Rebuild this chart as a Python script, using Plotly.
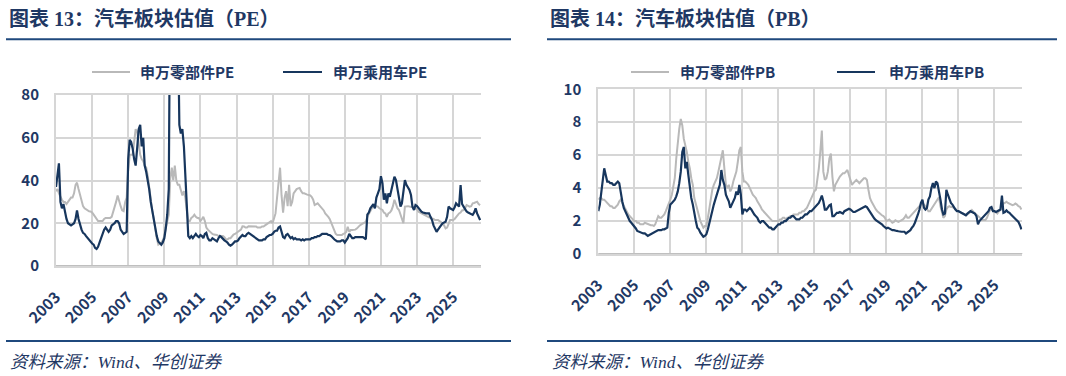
import plotly.graph_objects as go
import pandas as pd

W, H = 1066, 376

# ---------------- data (monthly, 2003-01 .. 2026-07) ----------------
MONTHS = pd.date_range("2003-01-01", "2026-07-01", freq="MS")

PANEL_TITLES = ["图表 13：汽车板块估值（PE）", "图表 14：汽车板块估值（PB）"]
SERIES_NAMES_PE = ["申万零部件PE", "申万乘用车PE"]
SERIES_NAMES_PB = ["申万零部件PB", "申万乘用车PB"]
SOURCE_TEXT = "资料来源：Wind、华创证券"

PE_PARTS = [
    35, 36, 34, 32, 31, 30, 30, 29, 30, 31, 32, 32,            # 2003
    34, 38, 39, 36, 33, 30, 28, 27, 26.5, 26, 25.6, 25.5,      # 2004
    25, 24, 23, 22, 21, 21, 21, 21, 22, 22.5, 22.5, 22.5,      # 2005
    22.5, 23, 25, 27, 30, 33, 30, 28, 26, 25.6, 30, 32,        # 2006
    45, 52, 52, 52, 58, 64, 63, 58, 52, 50, 49, 47,            # 2007
    46, 42, 36, 32, 26, 22, 17, 13, 10, 10.5, 11, 12,          # 2008
    14, 18, 21, 24, 41, 46, 40, 47, 40, 38, 38, 36,            # 2009
    33, 35, 32, 26, 21, 21, 22.5, 23, 24, 23, 22.5, 22.5,      # 2010
    21, 22, 23, 21, 18, 17, 16.3, 16, 15, 14.7, 14.7, 14.5,    # 2011
    14, 14, 14, 14, 13.5, 12.5, 12.4, 13, 13, 14, 14.7, 15,    # 2012
    15.5, 16, 16.3, 17, 18.6, 18.5, 18, 18, 18.6, 18.6, 18.6, 18.6,  # 2013
    18.6, 18.5, 18, 18, 18, 18.5, 18.5, 19, 19.5, 20, 20.5, 21,      # 2014
    20, 22, 24.6, 32, 38, 46, 33, 25, 32, 35, 28, 38,          # 2015
    28, 30, 34, 35, 36, 36.3, 36.5, 35, 34, 34, 33.5, 33.4,    # 2016
    33.2, 33, 32.4, 31, 28.5, 29, 29.3, 28.5, 27.8, 27, 26, 24.6,    # 2017
    24, 23, 22, 20, 18, 16, 15, 14.5, 14.5, 14.5, 14.5, 15,    # 2018
    15.3, 16, 18.4, 16, 16.8, 16.8, 16.8, 17, 17.5, 18.4, 19, 19.5,  # 2019
    20, 20.5, 20.7, 23, 24.6, 26, 27, 28, 28.5, 28, 27.8, 27,  # 2020
    26.5, 26.2, 25, 24.6, 23, 24.6, 25, 26, 28, 31, 29, 27,    # 2021
    26.2, 24, 23, 20, 27.8, 28, 28, 27.8, 27.8, 27.5, 27.3, 27,      # 2022
    26.5, 25.4, 25, 24.6, 24.2, 23.9, 23.5, 23, 22.8, 22.5, 22.3, 22,  # 2023
    21.5, 21.5, 21.5, 21, 20.5, 20, 19, 17.6, 18, 20, 21.5, 21.5,    # 2024
    21.5, 22, 23, 23.5, 24.6, 25, 26, 26.2, 27, 28.5, 28, 27.8,      # 2025
    28, 29.3, 29.5, 30, 30.1, 29, 28.5,                        # 2026
]

PE_CARS = [
    37, 43, 48, 30, 27, 29, 25, 22, 20, 19.5, 19, 19.5,        # 2003
    20, 22, 26, 22, 19, 17, 15.5, 15, 14, 13, 12, 11,          # 2004
    10.5, 10, 8.5, 8, 9, 11, 13, 15, 17, 18, 17, 16,           # 2005
    17, 19, 19.5, 20, 21, 21, 20, 17, 16, 15, 15.5, 16,        # 2006
    50, 59, 58, 55, 50, 47, 55, 64, 66, 56, 60, 47,            # 2007
    44, 40, 36, 30, 26, 22, 17, 14, 11.5, 10.5, 10, 11,        # 2008
    13, 18, 24, 36, 150, 250, 300, 250, 180, 120, 66, 62,      # 2009
    64, 56, 43, 27, 14, 13, 14, 13, 14, 15, 14, 13.5,          # 2010
    14.5, 14, 13, 15, 15.5, 13, 12, 12, 13, 12.5, 12, 11.5,    # 2011
    13, 14, 13.5, 12.5, 12, 11.5, 11, 10, 9.5, 10, 11, 11.5,   # 2012
    11.5, 12, 13, 14, 14.5, 14, 14, 15, 15.5, 15, 14.5, 14,    # 2013
    13.5, 13, 12.5, 12, 12, 12, 12.5, 12.5, 13.5, 14, 14.5, 14.5,    # 2014
    15, 16, 16.5, 16.5, 18, 18.5, 16, 13.5, 13, 14.5, 15, 14,  # 2015
    13, 13.5, 12.5, 13, 12.5, 12.5, 12.5, 12, 12.5, 12, 12.5, 12.5,  # 2016
    12.5, 12.5, 13, 13, 13.5, 13.5, 14, 14, 14.5, 15, 15, 15,  # 2017
    15, 14.5, 14.5, 14, 13, 12.5, 12, 11.5, 11.5, 11.5, 12, 12,      # 2018
    11, 12, 13, 15, 14, 13, 13, 13.5, 13.5, 13.5, 13.5, 13.5,  # 2019
    13.5, 13, 12.5, 24, 25, 27, 28, 29, 27, 32, 34, 36,        # 2020
    42, 38.7, 31, 34, 29.3, 34, 32.4, 36, 38.7, 41.8, 40.2, 35.6,    # 2021
    31, 27.8, 29.3, 34, 40.2, 38, 37, 35.6, 33.2, 27.8, 26.2, 28.5,  # 2022
    28, 27, 26.5, 25.4, 25, 24.6, 24.6, 24.6, 24.6, 23, 21.5, 19,    # 2023
    17, 16, 17, 18.4, 19, 20, 20.5, 20.7, 23, 27.8, 27, 26.5,  # 2024
    26.2, 27.5, 29.3, 28.5, 27.8, 37.9, 29, 27.8, 26.2, 25.5, 25, 24.6,  # 2025
    24.2, 23.9, 25, 27, 24.6, 23, 21.5,                        # 2026
]

PB_PARTS = [
    3.3, 3.4, 3.4, 3.3, 3.3, 3.2, 3.1, 3.0, 2.9, 2.9, 2.8, 2.8,        # 2003
    2.9, 3.0, 3.2, 3.3, 3.1, 2.9, 2.7, 2.5, 2.4, 2.3, 2.2, 2.1,        # 2004
    2.0, 2.0, 1.9, 1.9, 1.8, 1.8, 1.8, 1.9, 1.85, 1.8, 1.8, 1.75,      # 2005
    1.75, 1.7, 1.8, 2.0, 2.3, 2.2, 2.2, 2.3, 2.4, 2.6, 2.8, 3.0,       # 2006
    3.3, 3.6, 4.0, 4.6, 5.8, 7.0, 7.6, 8.2, 7.8, 7.0, 6.6, 6.2,        # 2007
    5.6, 5.2, 4.6, 4.2, 3.4, 3.0, 2.6, 2.3, 2.0, 1.8, 1.6, 1.7,        # 2008
    1.7, 2.2, 2.8, 3.4, 3.9, 4.2, 4.4, 4.6, 5.0, 5.4, 5.8, 6.3,        # 2009
    5.2, 4.2, 4.0, 4.2, 3.8, 4.0, 4.4, 4.8, 5.0, 5.6, 6.3, 6.5,        # 2010
    5.0, 4.4, 4.4, 4.3, 4.2, 4.0, 3.8, 3.6, 3.5, 3.4, 3.2, 3.0,        # 2011
    2.9, 2.7, 2.6, 2.5, 2.4, 2.3, 2.2, 2.1, 2.0, 2.0, 2.0, 2.0,        # 2012
    2.0, 2.1, 2.1, 2.2, 2.2, 2.1, 2.2, 2.2, 2.3, 2.3, 2.4, 2.4,        # 2013
    2.4, 2.4, 2.5, 2.5, 2.6, 2.6, 2.7, 2.8, 3.0, 3.2, 3.5, 3.7,        # 2014
    3.8, 3.9, 4.4, 5.2, 6.2, 7.5, 5.0, 4.5, 4.6, 5.0, 5.8, 6.1,        # 2015
    4.7, 3.8, 4.2, 4.4, 4.6, 4.7, 4.8, 4.9, 4.9, 5.0, 5.1, 4.8,        # 2016
    4.5, 4.2, 4.3, 4.4, 4.5, 4.4, 4.3, 4.4, 4.5, 4.6, 4.6, 4.5,        # 2017
    3.9, 3.4, 3.2, 3.0, 2.8, 2.7, 2.6, 2.5, 2.4, 2.35, 2.3, 2.2,       # 2018
    2.0, 2.05, 2.1, 2.0, 1.9, 1.95, 2.05, 2.0, 1.95, 2.0, 2.05, 2.1,   # 2019
    2.2, 2.35, 2.2, 2.2, 2.3, 2.4, 2.5, 2.6, 2.75, 2.85, 2.95, 3.0,    # 2020
    3.05, 3.0, 2.9, 2.7, 2.6, 2.6, 2.75, 2.9, 3.05, 3.15, 3.3, 3.45,   # 2021
    2.9, 2.5, 2.2, 2.3, 2.7, 2.85, 2.9, 2.85, 2.85, 2.8, 2.7, 2.65,    # 2022
    2.6, 2.57, 2.5, 2.46, 2.4, 2.36, 2.4, 2.46, 2.55, 2.67, 2.55, 2.46,  # 2023
    2.4, 2.3, 2.26, 2.15, 2.06, 2.06, 2.06, 2.2, 2.5, 2.67, 2.67, 2.67,  # 2024
    2.6, 2.5, 2.46, 2.6, 2.67, 2.9, 3.07, 3.1, 3.17, 3.1, 3.07, 3.0,   # 2025
    2.97, 3.0, 3.07, 3.0, 2.9, 2.87, 2.7,                              # 2026
]

PB_CARS = [
    2.6, 3.0, 3.7, 4.5, 5.2, 4.8, 4.4, 4.4, 4.3, 4.3, 4.2, 4.2,        # 2003
    4.3, 4.4, 4.3, 3.6, 3.2, 2.8, 2.6, 2.4, 2.2, 2.0, 1.9, 1.8,        # 2004
    1.7, 1.55, 1.4, 1.35, 1.3, 1.3, 1.25, 1.25, 1.2, 1.1, 1.15, 1.2,   # 2005
    1.25, 1.3, 1.35, 1.4, 1.45, 1.45, 1.45, 1.5, 1.5, 1.55, 1.6, 2.5,  # 2006
    3.0, 3.1, 3.2, 3.3, 3.5, 3.8, 4.3, 5.0, 6.2, 6.5, 5.2, 5.6,        # 2007
    4.8, 4.0, 3.4, 3.0, 2.4, 2.0, 1.6, 1.5, 1.3, 1.2, 1.05, 1.1,       # 2008
    1.2, 1.5, 1.9, 2.2, 2.6, 3.0, 3.3, 3.6, 3.9, 4.2, 5.1, 4.5,        # 2009
    4.2, 3.6, 3.4, 3.2, 2.8, 3.0, 3.2, 3.4, 3.8, 3.6, 4.2, 3.6,        # 2010
    2.4, 2.7, 2.7, 2.6, 2.7, 2.8, 2.7, 2.5, 2.4, 2.3, 2.2, 2.0,        # 2011
    1.9, 2.0, 2.0, 1.9, 1.8, 1.7, 1.6, 1.6, 1.5, 1.5, 1.6, 1.7,        # 2012
    1.8, 1.8, 1.9, 1.9, 2.0, 2.0, 2.1, 2.2, 2.2, 2.3, 2.3, 2.2,        # 2013
    2.1, 2.1, 2.1, 2.2, 2.2, 2.3, 2.4, 2.4, 2.5, 2.6, 2.6, 2.7,        # 2014
    2.8, 2.9, 3.0, 3.1, 3.3, 3.55, 3.2, 2.7, 2.7, 2.85, 2.95, 3.0,     # 2015
    2.3, 2.3, 2.4, 2.5, 2.5, 2.55, 2.5, 2.45, 2.6, 2.65, 2.7, 2.75,    # 2016
    2.7, 2.6, 2.55, 2.55, 2.6, 2.65, 2.7, 2.75, 2.8, 2.85, 2.9, 2.85,  # 2017
    2.7, 2.55, 2.4, 2.25, 2.15, 2.05, 2.0, 1.95, 1.9, 1.8, 1.7, 1.6,   # 2018
    1.55, 1.6, 1.55, 1.5, 1.45, 1.45, 1.4, 1.4, 1.38, 1.35, 1.35, 1.35,  # 2019
    1.35, 1.25, 1.3, 1.35, 1.45, 1.6, 1.7, 1.9, 2.1, 2.4, 2.7, 3.1,    # 2020
    3.3, 2.8, 2.7, 2.8, 3.3, 3.5, 4.0, 4.3, 4.0, 4.4, 4.3, 3.9,        # 2021
    3.3, 2.7, 2.4, 2.45, 3.9, 3.6, 3.3, 3.1, 3.0, 2.8, 2.7, 2.6,       # 2022
    2.6, 2.55, 2.5, 2.45, 2.4, 2.35, 2.45, 2.55, 2.6, 2.55, 2.5, 2.45,  # 2023
    2.3, 1.8, 2.0, 2.1, 2.25, 2.3, 2.45, 2.5, 2.6, 2.8, 2.85, 2.6,     # 2024
    2.6, 2.55, 2.6, 2.65, 2.7, 3.55, 2.5, 2.55, 2.65, 2.55, 2.5, 2.4,  # 2025
    2.3, 2.25, 2.1, 2.05, 1.95, 1.75, 1.5,                             # 2026
]

# ---------------- styling ----------------
NAVY_TEXT = "#1F3864"
NAVY_LINE = "#17365D"
GRAY_LINE = "#B9B9B9"
GRID = "#D6D6D6"
AXIS_BOTTOM = "#BFBFBF"
RULE = "#1F497D"
CJK = "Noto Sans CJK SC"
SERIF = "Liberation Serif, Noto Sans CJK SC"


def px(x):
    return x / W


def py(y):
    return 1 - y / H


fig = go.Figure()

panels = [
    dict(xa="x", ya="y", parts=PE_PARTS, cars=PE_CARS, names=SERIES_NAMES_PE),
    dict(xa="x2", ya="y2", parts=PB_PARTS, cars=PB_CARS, names=SERIES_NAMES_PB),
]
for p in panels:
    fig.add_trace(go.Scatter(x=MONTHS, y=p["parts"], name=p["names"][0], mode="lines",
                             line=dict(color=GRAY_LINE, width=2), xaxis=p["xa"], yaxis=p["ya"],
                             showlegend=False))
    fig.add_trace(go.Scatter(x=MONTHS, y=p["cars"], name=p["names"][1], mode="lines",
                             line=dict(color=NAVY_LINE, width=2.2), xaxis=p["xa"], yaxis=p["ya"],
                             showlegend=False))

xtickfont = dict(family=CJK, size=15.5, color=NAVY_TEXT, weight="bold")
ytickfont = dict(family=CJK, size=15, color=NAVY_TEXT, weight="bold")

xcommon = dict(type="date", range=["2003-01-01", "2026-07-19"], tick0="2003-01-01", dtick="M24",
               tickformat="%Y", tickangle=-45, showgrid=True, gridcolor=GRID, gridwidth=2,
               showline=True, mirror=True, linecolor=GRID, linewidth=2, ticks="",
               tickfont=xtickfont, zeroline=False, fixedrange=True, automargin=False,
               ticklabelstandoff=14)
ycommon = dict(showgrid=True, gridcolor=GRID, gridwidth=2, showline=True, linecolor=GRID,
               linewidth=2, ticks="", tickfont=ytickfont, zeroline=False, ticklabelstandoff=12,
               fixedrange=True, automargin=False)

fig.update_layout(
    width=W, height=H, margin=dict(l=0, r=0, t=0, b=0, autoexpand=False),
    paper_bgcolor="white", plot_bgcolor="white",
    xaxis=dict(domain=[px(56), px(481)], anchor="y", **xcommon),
    yaxis=dict(domain=[py(266), py(95)], anchor="x", range=[0, 80], dtick=20, **ycommon),
    xaxis2=dict(domain=[px(598.3), px(1022.3)], anchor="y2", **xcommon),
    yaxis2=dict(domain=[py(254), py(89.3)], anchor="x2", range=[0, 10], dtick=2, **ycommon),
)

shapes = []
annotations = []

# per-panel chrome: title, rules, legend, source
chrome = [
    dict(title=PANEL_TITLES[0], tx=7, rule=(6, 511), xa="x", ya="y",
         leg=[(92, 130, 138, GRAY_LINE, SERIES_NAMES_PE[0]), (283, 322, 331, NAVY_LINE, SERIES_NAMES_PE[1])],
         src_x=8),
    dict(title=PANEL_TITLES[1], tx=548, rule=(547, 1057), xa="x2", ya="y2",
         leg=[(631, 669, 678, GRAY_LINE, SERIES_NAMES_PB[0]), (837, 875, 887, NAVY_LINE, SERIES_NAMES_PB[1])],
         src_x=550),
]
for c in chrome:
    annotations.append(dict(text="<b>" + c["title"] + "</b>", x=px(c["tx"]), y=py(18.5), xref="paper",
                            yref="paper", xanchor="left", yanchor="middle", showarrow=False,
                            font=dict(family=SERIF, size=20, color=NAVY_TEXT)))
    for yy in (39.3, 341):
        shapes.append(dict(type="line", xref="paper", yref="paper", x0=px(c["rule"][0]),
                           x1=px(c["rule"][1]), y0=py(yy), y1=py(yy),
                           line=dict(color=RULE, width=2)))
    for (l0, l1, tx, col, name) in c["leg"]:
        shapes.append(dict(type="line", xref="paper", yref="paper", x0=px(l0), x1=px(l1),
                           y0=py(72), y1=py(72), line=dict(color=col, width=2)))
        annotations.append(dict(text=name, x=px(tx), y=py(72), xref="paper", yref="paper",
                                xanchor="left", yanchor="middle", showarrow=False,
                                font=dict(family=CJK, size=15, color=NAVY_TEXT, weight="bold")))
    annotations.append(dict(text="<i>" + SOURCE_TEXT + "</i>", x=px(c["src_x"]), y=py(361.5),
                            xref="paper", yref="paper", xanchor="left", yanchor="middle",
                            showarrow=False, font=dict(family=SERIF, size=17.5, color=NAVY_TEXT)))
    # darker baseline at value 0
    shapes.append(dict(type="line", xref=c["xa"] + " domain", yref=c["ya"], x0=0, x1=1, y0=0, y1=0,
                       line=dict(color=AXIS_BOTTOM, width=2)))

fig.update_layout(shapes=shapes, annotations=annotations)

fig.write_html("out.html")
